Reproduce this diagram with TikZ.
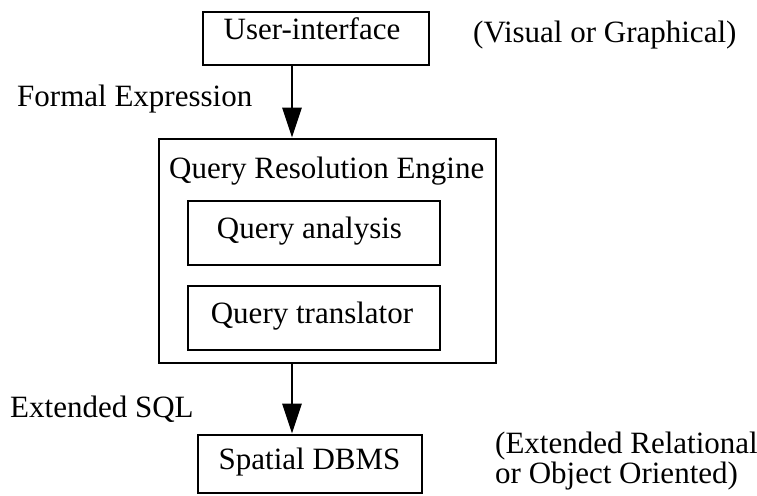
\documentclass[tikz,border=0pt]{standalone}
\usepackage{fontspec}
\setmainfont{Liberation Serif}
\usetikzlibrary{arrows.meta}
\begin{document}
\begin{tikzpicture}[x=1pt,y=-1pt,
  box/.style={draw,line width=2.8pt,rectangle,inner sep=0pt},
  txt/.style={inner sep=0pt,font=\fontsize{31}{28}\selectfont},
  arr/.style={line width=2.8pt,-{Triangle[length=30pt,width=19pt]}}]
\useasboundingbox (0,0) rectangle (757,495);
% boxes
\node[box,minimum width=226,minimum height=53] (ui) at (316,38.5) {};
\node[box,minimum width=337,minimum height=224] (qre) at (327.5,251) {};
\node[box,minimum width=252,minimum height=64] (qa) at (314,233) {};
\node[box,minimum width=252,minimum height=64] (qt) at (314,318) {};
\node[box,minimum width=224,minimum height=58] (db) at (310,464) {};
% box texts
\node[txt,anchor=base] (uit) at (312,40) {User-interface};
\node[txt,anchor=base west] (qret) at (169,178) {Query Resolution Engine};
\node[txt,anchor=base] (qat) at (309.5,238) {Query analysis};
\node[txt,anchor=base] (qtt) at (312,323) {Query translator};
\node[txt,anchor=base] (dbt) at (309.5,469) {Spatial DBMS};
% side labels
\node[txt,anchor=base west] (fe) at (17,106) {Formal Expression};
\node[txt,anchor=base west] (vg) at (473,42) {(Visual or Graphical)};
\node[txt,anchor=base west] (es) at (10,417) {Extended SQL};
\node[txt,anchor=base west,align=left] (er) at (495,483) {(Extended Relational\\or Object Oriented)};
% connectors
\coordinate (ax) at (292,0);
\draw[arr] (ui.south -| ax) -- (qre.north -| ax);
\draw[arr] (qre.south -| ax) -- (db.north -| ax);
\end{tikzpicture}
\end{document}
